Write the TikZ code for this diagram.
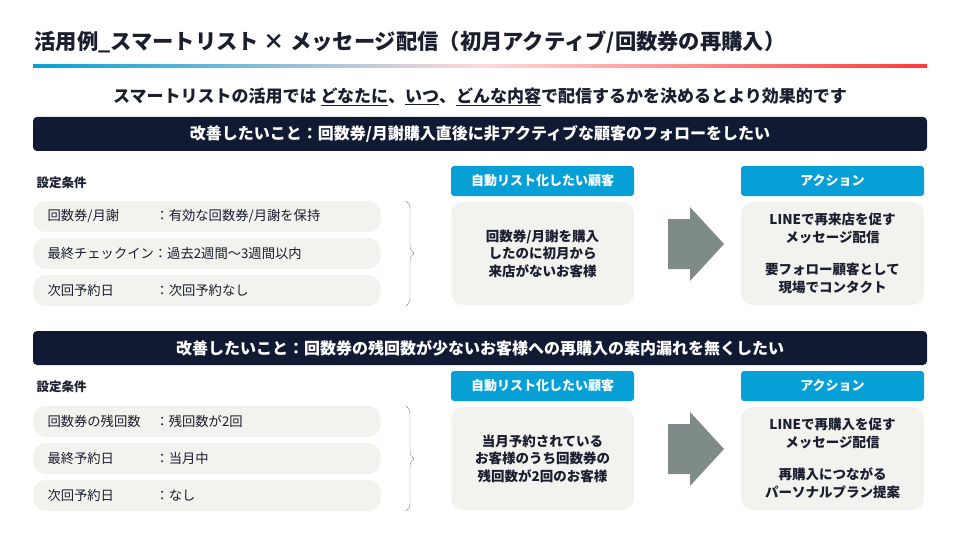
\documentclass[tikz,border=0pt]{standalone}
\usepackage{fontspec}
\setmainfont{Noto Sans CJK JP}
\usetikzlibrary{positioning,decorations.pathreplacing}
\definecolor{navy}{HTML}{111A33}
\definecolor{sky}{HTML}{06A0D6}
\definecolor{pale}{HTML}{F2F2EE}
\definecolor{arrowgray}{HTML}{7E8B89}
\definecolor{ink}{HTML}{1A1E2E}
\tikzset{
  bar/.style={rectangle, rounded corners=4pt, fill=navy, text=white, minimum width=894pt, minimum height=34pt, font=\fontsize{16}{18}\selectfont\bfseries},
  pill/.style={rectangle, rounded corners=13pt, fill=pale, minimum width=348pt, minimum height=31pt},
  ptext/.style={anchor=west, text=ink, font=\fontsize{13.3}{15}\selectfont},
  tag/.style={rectangle, rounded corners=3pt, fill=sky, text=white, minimum width=183pt, minimum height=30pt, font=\fontsize{13}{15}\selectfont\bfseries},
  card/.style={rectangle, rounded corners=12pt, fill=pale, minimum width=183pt, minimum height=103pt, align=center, text=ink, font=\fontsize{13.5}{17.5}\selectfont\bfseries},
  head/.style={anchor=west, text=ink, font=\fontsize{12.5}{14}\selectfont\bfseries}
}
\begin{document}
\begin{tikzpicture}[x=1pt,y=-1pt]
\useasboundingbox (0,0) rectangle (960,540);
\node[anchor=west, text=ink, font=\fontsize{21.3}{24}\selectfont\bfseries] (title) at (31,42) {活用例\_スマートリスト × メッセージ配信（初月アクティブ/回数券の再購入）};
\shade[left color=sky, right color=red!70!pink, middle color=pink!60] (33,65) rectangle (927,67.5);
\node[text=ink, font=\fontsize{17}{20}\selectfont\bfseries] (lead) at (480,97) {スマートリストの活用では \underline{どなたに}、\underline{いつ}、\underline{どんな内容}で配信するかを決めるとより効果的です};

% first case
\node[bar] (bar1) at (480,134) {改善したいこと：回数券/月謝購入直後に非アクティブな顧客のフォローをしたい};
\node[head] (cond1) at (33,183) {設定条件};
\node[pill] (p11) at (207,216.5) {};
\node[pill] (p12) at (207,253.5) {};
\node[pill] (p13) at (207,290.5) {};
\node[ptext] at (44,216.5) {回数券/月謝};
\node[ptext] at (152,216.5) {：有効な回数券/月謝を保持};
\node[ptext] at (44,253.5) {最終チェックイン：過去2週間〜3週間以内};
\node[ptext] at (44,290.5) {次回予約日};
\node[ptext] at (152,290.5) {：次回予約なし};
\draw[gray, decorate, decoration={brace, amplitude=8pt}] (406,201) -- (406,306);
\node[tag] (tag1) at (542.5,181) {自動リスト化したい顧客};
\node[card] (card1) at (542.5,253.5) {回数券/月謝を購入\\したのに初月から\\来店がないお客様};
\fill[arrowgray] (668,219) -- (690,219) -- (690,207) -- (724,244) -- (690,281) -- (690,269) -- (668,269) -- cycle;
\node[tag] (act1) at (832.5,181) {アクション};
\node[card] (acard1) at (832.5,253.5) {LINEで再来店を促す\\メッセージ配信\\[15pt]要フォロー顧客として\\現場でコンタクト};

% second case
\node[bar] (bar2) at (480,348) {改善したいこと：回数券の残回数が少ないお客様への再購入の案内漏れを無くしたい};
\node[head] (cond2) at (33,387) {設定条件};
\node[pill] (p21) at (207,421.5) {};
\node[pill] (p22) at (207,458.5) {};
\node[pill] (p23) at (207,495.5) {};
\node[ptext] at (44,421.5) {回数券の残回数};
\node[ptext] at (152,421.5) {：残回数が2回};
\node[ptext] at (44,458.5) {最終予約日};
\node[ptext] at (152,458.5) {：当月中};
\node[ptext] at (44,495.5) {次回予約日};
\node[ptext] at (152,495.5) {：なし};
\draw[gray, decorate, decoration={brace, amplitude=8pt}] (406,406) -- (406,511);
\node[tag] (tag2) at (542.5,386) {自動リスト化したい顧客};
\node[card] (card2) at (542.5,458.5) {当月予約されている\\お客様のうち回数券の\\残回数が2回のお客様};
\fill[arrowgray] (668,424) -- (690,424) -- (690,412) -- (724,449) -- (690,486) -- (690,474) -- (668,474) -- cycle;
\node[tag] (act2) at (832.5,386) {アクション};
\node[card] (acard2) at (832.5,458.5) {LINEで再購入を促す\\メッセージ配信\\[15pt]再購入につながる\\パーソナルプラン提案};
\end{tikzpicture}
\end{document}
